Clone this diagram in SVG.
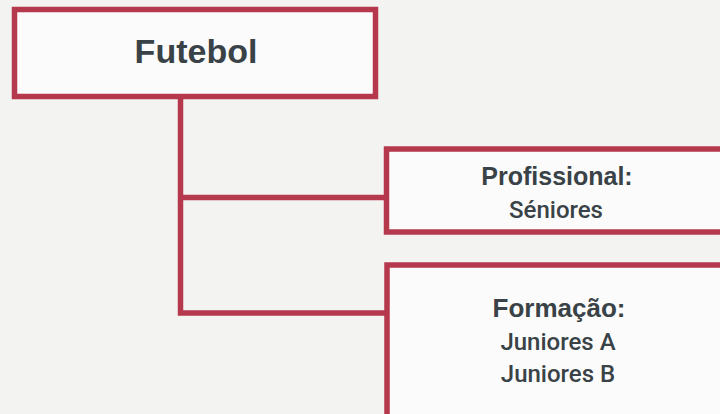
<svg xmlns="http://www.w3.org/2000/svg" width="720" height="414" viewBox="0 0 720 414">
<style>
.box{fill:#fbfbfb;stroke:#b5384c;stroke-width:5.5}
.conn{fill:none;stroke:#b5384c;stroke-width:5.5}
.t{font-family:"Liberation Sans",Arial,sans-serif;fill:#394246;text-anchor:middle}
.b{font-weight:bold}
.m{font-family:Roboto,"Liberation Sans",Arial,sans-serif;font-weight:500}
</style>
<rect x="0" y="0" width="720" height="414" fill="#f3f3f2"/>
<g id="connectors">
<path class="conn" d="M180.5 97 V313 H388"/>
<path class="conn" d="M180.5 197.5 H388"/>
</g>
<g id="futebol">
<rect class="box" x="14.5" y="9.5" width="361" height="87"/>
<text class="t b" x="196" y="63" font-size="34">Futebol</text>
</g>
<g id="profissional">
<rect class="box" x="386.5" y="149" width="340" height="83"/>
<text class="t b" x="557" y="185" font-size="25">Profissional:</text>
<text class="t m" x="556" y="218" font-size="24">Séniores</text>
</g>
<g id="formacao">
<rect class="box" x="387" y="265" width="340" height="160"/>
<text class="t b" x="559" y="317" font-size="26">Formação:</text>
<text class="t m" x="558" y="350" font-size="24">Juniores A</text>
<text class="t m" x="558" y="382" font-size="24">Juniores B</text>
</g>
</svg>
